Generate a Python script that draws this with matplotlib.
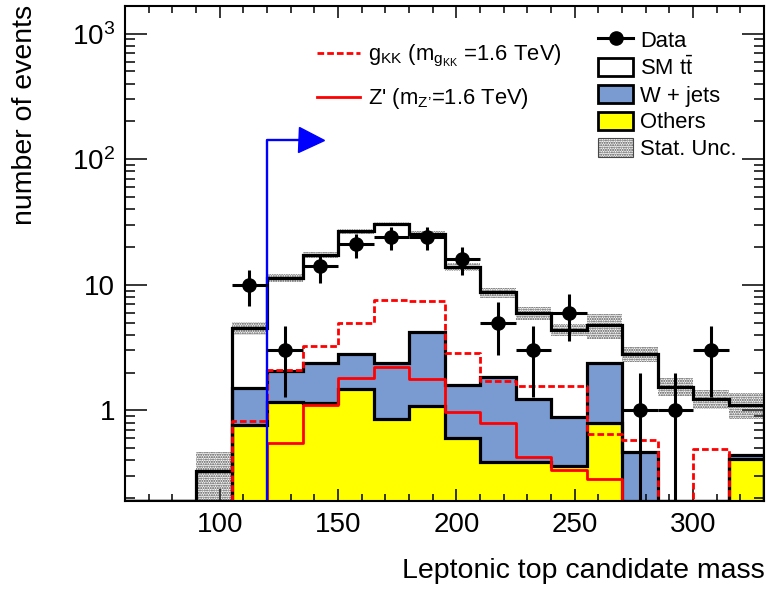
import numpy as np
import matplotlib
matplotlib.use("Agg")
import matplotlib.pyplot as plt
from matplotlib.patches import Patch
from matplotlib.lines import Line2D
from matplotlib.ticker import FixedLocator, FixedFormatter, MultipleLocator, LogLocator, NullFormatter

plt.rcParams['font.family'] = ['Liberation Sans', 'DejaVu Sans']
plt.rcParams['mathtext.fontset'] = 'custom'
plt.rcParams['mathtext.rm'] = 'Liberation Sans'
plt.rcParams['mathtext.it'] = 'Liberation Sans:italic'
plt.rcParams['hatch.linewidth'] = 1.0

# ---------------- data ----------------
bin_edges = [60, 75, 90, 105, 120, 135, 150, 165, 180, 195, 210, 225, 240, 255, 270, 285, 300, 315, 330]
others = [0, 0, 0, 0.77, 1.16, 1.15, 1.48, 0.85, 1.09, 0.60, 0.39, 0.39, 0.36, 0.80, 0, 0, 0, 0.41]
wjets = [0, 0, 0, 0.74, 0.89, 1.24, 1.33, 1.54, 3.13, 0.98, 1.44, 0.84, 0.52, 1.59, 0.47, 0, 0, 0.03]
ttbar = [0, 0, 0.33, 3.03, 9.30, 15.01, 23.89, 28.31, 21.18, 12.22, 6.88, 4.74, 3.52, 2.37, 2.34, 1.55, 1.24, 0.67]
stat_unc = [0, 0, 0.14, 0.55, 0.9, 1.0, 1.3, 1.2, 1.2, 1.0, 0.8, 0.7, 0.47, 1.05, 0.36, 0.25, 0.22, 0.26]
data = [0, 0, 0, 10, 3, 14, 21, 24, 24, 16, 5, 3, 6, 0, 1, 1, 3, 0]
gkk = [0, 0, 0, 0.82, 2.11, 3.24, 4.97, 7.53, 7.39, 2.87, 1.70, 1.57, 1.57, 0.65, 0.58, 0, 0.49, 0]
zprime = [0, 0, 0, 0, 0.55, 1.11, 1.81, 2.20, 1.79, 0.98, 0.79, 0.425, 0.333, 0.286, 0, 0, 0, 0]
cut_value = 120
x_ticks = [100, 150, 200, 250, 300]
y_ticks = [1, 10, 100, 1000]
y_tick_labels = ['1', '10', r'$\mathregular{10^{2}}$', r'$\mathregular{10^{3}}$']
x_title = 'Leptonic top candidate mass'
y_title = 'number of events'
legend_labels = ['Data', r'SM $\mathregular{t\bar{t}}$', 'W + jets', 'Others', 'Stat. Unc.']
signal_labels = [r'g$_{\mathregular{KK}}$ (m$_{\mathregular{g_{KK}}}$ =1.6 TeV)',
                 "Z' (m$_{\\mathregular{Z\u2019}}$=1.6 TeV)"]

# ---------------- figure ----------------
W, H = 766, 590
fig = plt.figure(figsize=(W / 100, H / 100), dpi=100)
L, R, T, B = 125, 764, 6, 501
ax = fig.add_axes([L / W, 1 - B / H, (R - L) / W, (B - T) / H])
ymin, ymax = 0.19, 1660
ax.set_yscale('log')
ax.set_xlim(bin_edges[0], bin_edges[-1])
ax.set_ylim(ymin, ymax)

edges = np.array(bin_edges, dtype=float)
o = np.array(others)
w = np.array(wjets)
t = np.array(ttbar)
tot = o + w + t
wtop = o + w


def step_xy(vals):
    v = np.where(np.asarray(vals) > 0, vals, ymin)
    xs = np.repeat(edges, 2)
    ys = np.concatenate([[ymin], np.repeat(v, 2), [ymin]])
    return xs, ys


blue = '#7a9bd2'
yellow = '#ffff00'
for vals, col in [(tot, 'white'), (wtop, blue), (o, yellow)]:
    xs, ys = step_xy(vals)
    ax.fill_between(xs, ymin, ys, color=col, lw=0, zorder=1)

# stat band
hatch_col = '#474747'
su = np.array(stat_unc)
lo = np.where(tot > 0, np.maximum(tot - su, ymin * 0.5), ymin)
hi = np.where(tot > 0, tot + su, ymin)
xs_b = np.repeat(edges, 2)[1:-1]
ax.fill_between(xs_b, np.repeat(lo, 2), np.repeat(hi, 2), facecolor='none',
                edgecolor=hatch_col, hatch='.......', lw=0, zorder=2)

for vals in (tot, wtop, o):
    xs, ys = step_xy(vals)
    ax.plot(xs, ys, color='black', lw=2.3, zorder=3, solid_joinstyle='miter')

xs, ys = step_xy(gkk)
ax.plot(xs, ys, color='red', lw=2.0, ls=(0, (2.4, 1.1)), zorder=4)
xs, ys = step_xy(zprime)
ax.plot(xs, ys, color='red', lw=2.0, zorder=4)

# cut arrow
ax.plot([cut_value, cut_value, 134], [ymin, 143.5, 143.5], color='blue', lw=1.7, zorder=5)
ax.plot([138.6], [143.5], marker='>', ms=18, color='blue', mec='blue', zorder=5)

# data
d = np.array(data, dtype=float)
centers = 0.5 * (edges[:-1] + edges[1:])
m = d > 0
ax.errorbar(centers[m], d[m], xerr=0.5 * np.diff(edges)[m], yerr=np.sqrt(d[m]),
            fmt='o', color='black', ms=9.5, lw=2.2, capsize=0, zorder=6)

# ticks
ax.xaxis.set_major_locator(FixedLocator(x_ticks))
ax.xaxis.set_minor_locator(MultipleLocator(10))
ax.yaxis.set_major_locator(FixedLocator(y_ticks))
ax.yaxis.set_major_formatter(FixedFormatter(y_tick_labels))
ax.yaxis.set_minor_locator(LogLocator(base=10, subs=np.arange(2, 10)))
ax.yaxis.set_minor_formatter(NullFormatter())
ax.tick_params(which='both', direction='in', top=True, right=True, width=1.1, labelsize=20)
ax.tick_params(axis='y', which='major', length=16, pad=7)
ax.tick_params(axis='y', which='minor', length=7)
ax.tick_params(axis='x', which='major', length=8.6, pad=8)
ax.tick_params(axis='x', which='minor', length=4.7)
for s in ax.spines.values():
    s.set_linewidth(1.5)
    s.set_zorder(7)

fig.text(25 / W, 1 - 5 / H, y_title, rotation=90, ha='center', va='top', fontsize=20.5)
fig.text(765 / W, 1 - 571 / H, x_title, ha='right', va='center', fontsize=20.5)

# legends
h_right = [Line2D([], [], color='black', marker='o', ms=9.5, lw=2.2),
           Patch(facecolor='white', edgecolor='black', lw=2.0),
           Patch(facecolor=blue, edgecolor='black', lw=2.0),
           Patch(facecolor=yellow, edgecolor='black', lw=2.0),
           Patch(facecolor='white', edgecolor=hatch_col, hatch='.......', lw=0.8)]
leg1 = fig.legend(h_right, legend_labels, loc='upper left', bbox_to_anchor=(598 / W, 1 - 30 / H),
                  frameon=False, fontsize=15.8, handlelength=1.6, handleheight=0.9,
                  handletextpad=0.32, labelspacing=0.23, borderpad=0, borderaxespad=0)

h_sig = [Line2D([], [], color='red', lw=2.0, ls=(0, (2.4, 1.1))),
         Line2D([], [], color='red', lw=2.0)]
leg2 = fig.legend(h_sig, signal_labels, loc='upper left', bbox_to_anchor=(317 / W, 1 - 43 / H),
                  frameon=False, fontsize=15.8, handlelength=1.95, handletextpad=0.36,
                  labelspacing=0.78, borderpad=0, borderaxespad=0)

fig.savefig('out.png', dpi=100)
